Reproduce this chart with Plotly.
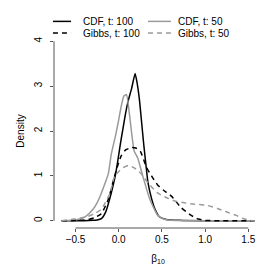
import plotly.graph_objects as go

# --- data ---
x_cdf100 = [-0.66, -0.4, -0.3, -0.25, -0.2, -0.15, -0.086, -0.04, -0.01, 0.02, 0.05, 0.08, 0.11, 0.15, 0.19, 0.215, 0.24, 0.265, 0.29, 0.315, 0.34, 0.38, 0.42, 0.47, 0.55, 0.7, 1.0, 1.57]
y_cdf100 = [0.0, 0.0, 0.01, 0.02, 0.05, 0.2, 0.62, 1.0, 1.34, 1.72, 2.06, 2.4, 2.67, 2.95, 3.28, 3.05, 2.7, 2.2, 1.7, 1.25, 0.84, 0.5, 0.26, 0.09, 0.03, 0.01, 0.0, 0.0]

x_cdf50 = [-0.66, -0.55, -0.45, -0.38, -0.3, -0.25, -0.2, -0.15, -0.12, -0.086, -0.035, 0.0, 0.03, 0.06, 0.09, 0.12, 0.15, 0.18, 0.22, 0.28, 0.36, 0.45, 0.52, 0.6, 0.8, 1.57]
y_cdf50 = [0.0, 0.01, 0.04, 0.1, 0.25, 0.4, 0.62, 0.88, 1.05, 1.48, 1.91, 2.25, 2.56, 2.78, 2.81, 2.45, 1.95, 1.55, 1.4, 0.99, 0.48, 0.13, 0.04, 0.01, 0.0, 0.0]

x_gibbs100 = [-0.66, -0.45, -0.35, -0.28, -0.2, -0.12, -0.05, 0.0, 0.03, 0.08, 0.15, 0.2, 0.25, 0.32, 0.38, 0.45, 0.52, 0.61, 0.72, 0.84, 0.92, 1.0, 1.57]
y_gibbs100 = [0.0, 0.01, 0.03, 0.07, 0.16, 0.48, 0.98, 1.3, 1.45, 1.58, 1.63, 1.62, 1.55, 1.2, 1.0, 0.8, 0.68, 0.55, 0.3, 0.12, 0.04, 0.01, 0.0]

x_gibbs50 = [-0.66, -0.55, -0.45, -0.35, -0.28, -0.2, -0.1, -0.05, 0.0, 0.05, 0.11, 0.18, 0.26, 0.35, 0.45, 0.55, 0.65, 0.76, 0.88, 1.03, 1.15, 1.26, 1.36, 1.44, 1.52, 1.57]
y_gibbs50 = [0.0, 0.03, 0.06, 0.1, 0.16, 0.26, 0.62, 0.98, 1.1, 1.18, 1.23, 1.18, 1.05, 0.82, 0.62, 0.52, 0.44, 0.4, 0.37, 0.34, 0.27, 0.19, 0.12, 0.05, 0.01, 0.0]

x_ticks = [-0.5, 0.0, 0.5, 1.0, 1.5]
x_ticklabels = ["\u22120.5", "0.0", "0.5", "1.0", "1.5"]
y_ticks = [0, 1, 2, 3, 4]
y_ticklabels = ["0", "1", "2", "3", "4"]

series_names = ["CDF, t: 100", "CDF, t: 50", "Gibbs, t: 100", "Gibbs, t: 50"]

GRAY = "#9a9a9a"
DASH = "5px,4px"
FONT = "Liberation Sans, Arial, sans-serif"

styles = [
    dict(color="black", width=1.5, dash="solid"),
    dict(color=GRAY, width=1.5, dash="solid"),
    dict(color="black", width=1.5, dash=DASH),
    dict(color=GRAY, width=1.5, dash=DASH),
]
xs = [x_cdf100, x_cdf50, x_gibbs100, x_gibbs50]
ys = [y_cdf100, y_cdf50, y_gibbs100, y_gibbs50]

fig = go.Figure()
for xv, yv, nm, st in zip(xs, ys, series_names, styles):
    fig.add_trace(go.Scatter(x=xv, y=yv, mode="lines", name=nm,
                             line=dict(shape="spline", smoothing=0.5, **st)))

# R-style axis lines spanning only the tick range
fig.add_shape(type="line", xref="x", yref="paper", x0=x_ticks[0], x1=x_ticks[-1], y0=0, y1=0,
              line=dict(color="#555555", width=1))
fig.add_shape(type="line", xref="paper", yref="y", x0=0, x1=0, y0=y_ticks[0], y1=y_ticks[-1],
              line=dict(color="#555555", width=1))

# Manual two-column legend (R style), in paper coordinates
leg_pos = [  # (line x0, line x1, text x, y)
    (-0.005, 0.082, 0.13, 1.065),
    (0.452, 0.562, 0.586, 1.065),
    (-0.005, 0.082, 0.13, 1.005),
    (0.452, 0.562, 0.586, 1.005),
]
for nm, st, (lx0, lx1, tx, ly) in zip(series_names, styles, leg_pos):
    fig.add_shape(type="line", xref="paper", yref="paper", x0=lx0, x1=lx1, y0=ly, y1=ly,
                  line=dict(color=st["color"], width=st["width"], dash=st["dash"]))
    fig.add_annotation(xref="paper", yref="paper", x=tx, y=ly, text=nm, showarrow=False,
                       xanchor="left", yanchor="middle", font=dict(size=10, family=FONT))

fig.update_layout(
    width=266, height=266,
    margin=dict(l=46, r=12, t=26, b=40),
    paper_bgcolor="white", plot_bgcolor="white",
    font=dict(family=FONT, size=10, color="black"),
    showlegend=False,
    xaxis=dict(range=[-0.749, 1.659], tickvals=x_ticks, ticktext=x_ticklabels,
               showgrid=False, zeroline=False, showline=False,
               ticks="outside", ticklen=3, tickcolor="#555555",
               tickfont=dict(size=10), ticklabelstandoff=-1,
               title=dict(text="\u03b2<sub>10</sub>", standoff=10, font=dict(size=10))),
    yaxis=dict(range=[-0.16, 4.16], tickvals=y_ticks, ticktext=y_ticklabels,
               showgrid=False, zeroline=False, showline=False,
               ticks="outside", ticklen=3, tickcolor="#555555", tickangle=-90,
               tickfont=dict(size=10), ticklabelstandoff=4,
               title=dict(text="Density", standoff=6, font=dict(size=10))),
)

fig.write_html("out.html")
